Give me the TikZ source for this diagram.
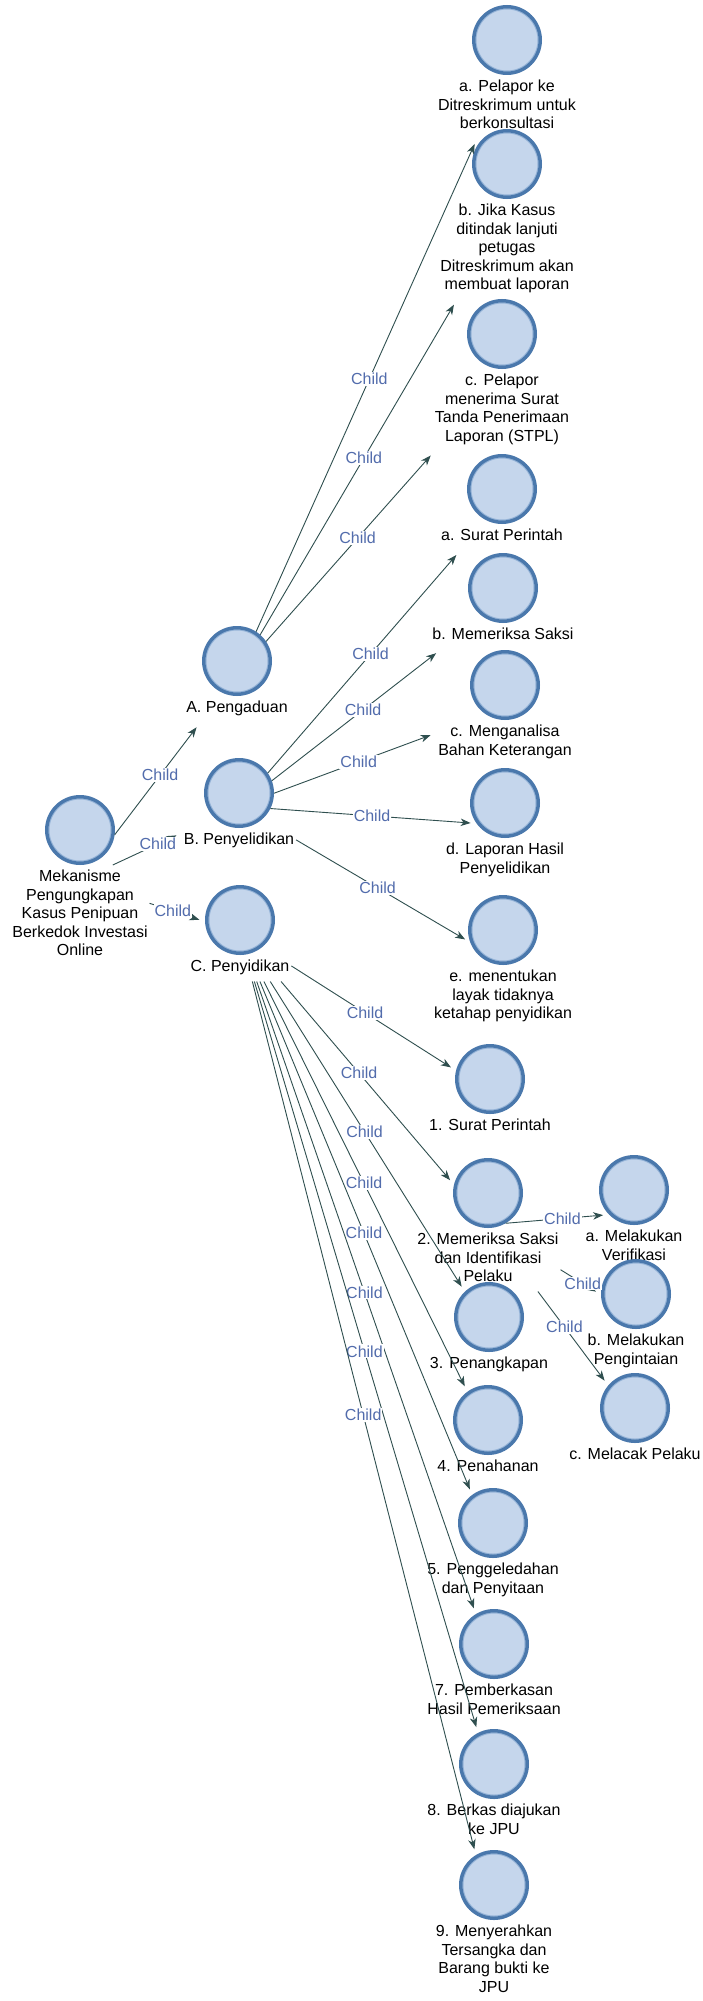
\documentclass[tikz,border=0pt]{standalone}
\usepackage{fontspec}
\setmainfont{Liberation Sans}
\usetikzlibrary{intersections,calc,fit,arrows.meta}

\definecolor{ringc}{RGB}{74,120,172}
\definecolor{ringin}{RGB}{150,180,216}
\definecolor{discc}{RGB}{197,214,236}
\definecolor{edgec}{RGB}{47,79,79}
\definecolor{childc}{RGB}{82,108,172}

\tikzset{
  disc/.style={circle, draw=ringc, line width=3.5pt, fill=discc,
    minimum size=66.5pt, inner sep=0pt, outer sep=1.75pt,
    path picture={\draw[ringin, line width=1pt]
      (path picture bounding box.center) circle[radius=31pt];}},
  caption/.style={anchor=north, align=center, inner xsep=2pt, inner ysep=4pt,
    outer sep=0pt, font=\fontsize{16pt}{18.5pt}\selectfont, text=black},
  unionbox/.style={inner sep=0pt, outer sep=0pt},
  link/.style={draw=edgec, line width=0.9pt,
    -{Stealth[length=10pt,width=7.5pt,inset=3pt]}, shorten >=6pt},
  tag/.style={fill=white, inner sep=1pt, text=childc,
    font=\fontsize{16pt}{18.5pt}\selectfont},
}

% one item: a disc with its caption underneath, plus the outline of both
\newcommand\place[4]{%
  \node[disc] (#1-c) at (#2,#3) {};
  \node[caption] (#1-l) at (#1-c.south) {#4};
  \node[unionbox, fit=(#1-c)(#1-l)] (#1) {};
  \path[name path global=#1-cp] (#1-c.center) circle[radius=35pt];
  \path[name path global=#1-rp] (#1-l.south west) rectangle (#1-l.north east);
}

% a connector aimed centre to centre, visible only outside disc and caption
\newcommand\link[3]{%
  \path[name path=ln] (#1.center) -- (#2.center);
  \path[name intersections={of=ln and #1-cp, name=sc, sort by=ln, total=\ntot}] \pgfextra{\xdef\nsc{\ntot}};
  \path[name intersections={of=ln and #1-rp, name=sr, sort by=ln, total=\ntot}] \pgfextra{\xdef\nsr{\ntot}};
  \path[name intersections={of=ln and #2-cp, name=tc, sort by=ln, total=\ntot}] \pgfextra{\xdef\ntc{\ntot}};
  \path[name intersections={of=ln and #2-rp, name=tr, sort by=ln, total=\ntot}] \pgfextra{\xdef\ntr{\ntot}};
  \ifnum\nsc=0
    \ifnum\nsr=0 \xdef\lkstart{#1.center}\else\xdef\lkstart{sr-\nsr}\fi
  \else
    \ifnum\nsr=0 \xdef\lkstart{sc-\nsc}\else
      \path let \p1=($(sc-\nsc)-(#1.center)$), \p2=($(sr-\nsr)-(#1.center)$) in
        \pgfextra{\pgfmathparse{veclen(\x1,\y1)>veclen(\x2,\y2)}%
          \ifdim\pgfmathresult pt>0.5pt \xdef\lkstart{sc-\nsc}\else\xdef\lkstart{sr-\nsr}\fi};
    \fi
  \fi
  \ifnum\ntc=0
    \ifnum\ntr=0 \xdef\lkend{#2.center}\else\xdef\lkend{tr-1}\fi
  \else
    \ifnum\ntr=0 \xdef\lkend{tc-1}\else
      \path let \p1=($(tc-1)-(#1.center)$), \p2=($(tr-1)-(#1.center)$) in
        \pgfextra{\pgfmathparse{veclen(\x1,\y1)<veclen(\x2,\y2)}%
          \ifdim\pgfmathresult pt>0.5pt \xdef\lkend{tc-1}\else\xdef\lkend{tr-1}\fi};
    \fi
  \fi
  \draw[link] (\lkstart) -- (\lkend);
  \path (#1.center) -- (#2.center) node[tag, pos=#3] {Child};
}

\begin{document}
\begin{tikzpicture}[x=1pt, y=-1pt]
\fill[white] (0,0) rectangle (702,2001);
\useasboundingbox (0,0) rectangle (702,2001);

% root and first level
\place{root}{80}{830}{\strut Mekanisme\\\strut Pengungkapan\\\strut Kasus Penipuan\\\strut Berkedok Investasi\\\strut Online}
\place{A}{237}{661}{\strut A. Pengaduan}
\place{B}{239}{793}{\strut B. Penyelidikan}
\place{C}{240}{920}{\strut C. Penyidikan}

% A. Pengaduan
\place{pa}{507}{40}{\strut a. Pelapor ke\\\strut Ditreskrimum untuk\\\strut berkonsultasi}
\place{pb}{507}{164}{\strut b. Jika Kasus\\\strut ditindak lanjuti\\\strut petugas\\\strut Ditreskrimum akan\\\strut membuat laporan}
\place{pc}{502}{334}{\strut c. Pelapor\\\strut menerima Surat\\\strut Tanda Penerimaan\\\strut Laporan (STPL)}

% B. Penyelidikan
\place{sa}{502}{489}{\strut a. Surat Perintah}
\place{sb}{503}{588}{\strut b. Memeriksa Saksi}
\place{sc}{505}{685}{\strut c. Menganalisa\\\strut Bahan Keterangan}
\place{sd}{505}{803}{\strut d. Laporan Hasil\\\strut Penyelidikan}
\place{se}{503}{930}{\strut e. menentukan\\\strut layak tidaknya\\\strut ketahap penyidikan}

% C. Penyidikan
\place{d1}{490}{1079}{\strut 1. Surat Perintah}
\place{d2}{488}{1193}{\strut 2. Memeriksa Saksi\\\strut dan Identifikasi\\\strut Pelaku}
\place{d3}{489}{1317}{\strut 3. Penangkapan}
\place{d4}{488}{1420}{\strut 4. Penahanan}
\place{d5}{493}{1523}{\strut 5. Penggeledahan\\\strut dan Penyitaan}
\place{d7}{494}{1644}{\strut 7. Pemberkasan\\\strut Hasil Pemeriksaan}
\place{d8}{494}{1764}{\strut 8. Berkas diajukan\\\strut ke JPU}
\place{d9}{494}{1885}{\strut 9. Menyerahkan\\\strut Tersangka dan\\\strut Barang bukti ke\\\strut JPU}

% 2. Memeriksa Saksi dan Identifikasi Pelaku
\place{ma}{634}{1190}{\strut a. Melakukan\\\strut Verifikasi}
\place{mb}{636}{1294}{\strut b. Melakukan\\\strut Pengintaian}
\place{mc}{635}{1408}{\strut c. Melacak Pelaku}

% connectors
\link{root}{A}{0.51}
\link{root}{B}{0.49}
\link{root}{C}{0.58}
\link{A}{pa}{0.49}
\link{A}{pb}{0.47}
\link{A}{pc}{0.455}
\link{B}{sa}{0.50}
\link{B}{sb}{0.47}
\link{B}{sc}{0.45}
\link{B}{sd}{0.50}
\link{B}{se}{0.525}
\link{C}{d1}{0.50}
\link{C}{d2}{0.48}
\link{C}{d3}{0.50}
\link{C}{d4}{0.50}
\link{C}{d5}{0.49}
\link{C}{d7}{0.49}
\link{C}{d8}{0.49}
\link{C}{d9}{0.485}
\link{d2}{ma}{0.51}
\link{d2}{mb}{0.64}
\link{d2}{mc}{0.52}
\end{tikzpicture}
\end{document}
